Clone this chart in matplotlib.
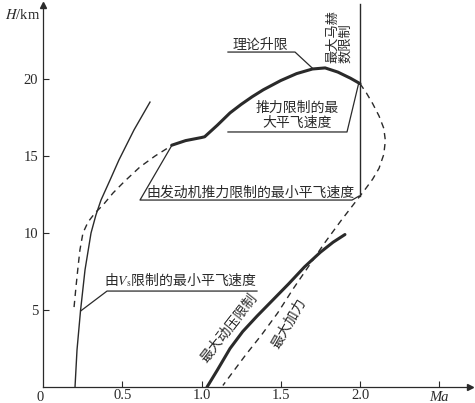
import matplotlib
matplotlib.use('Agg')
import matplotlib.pyplot as plt

plt.rcParams['mathtext.fontset'] = 'stix'
CJK = ['Noto Sans CJK SC', 'DejaVu Sans']
SERIF = 'Liberation Serif'
INK = '#2a2a2a'

# ---- data (Ma, H/km) ----
vs_ma = [0.202, 0.2145, 0.2366, 0.265, 0.303, 0.334, 0.366, 0.423, 0.479, 0.574, 0.675]
vs_h = [0.0, 2.40, 4.94, 7.60, 10.0, 11.17, 12.14, 13.44, 14.74, 16.69, 18.5]

tmin_ma = [0.196, 0.208, 0.221, 0.233, 0.252, 0.284, 0.328, 0.379, 0.442,
           0.517, 0.612, 0.707, 0.812]
tmin_h = [5.19, 6.49, 7.79, 8.9, 10.0, 10.71, 11.3, 11.82, 12.6,
          13.38, 14.29, 15.0, 15.68]

top_ma = [0.812, 0.900, 1.000, 1.020, 1.100, 1.180, 1.250, 1.320, 1.390,
          1.500, 1.600, 1.700, 1.780, 1.860, 1.940, 2.000]
top_h = [15.7, 16.0, 16.2, 16.25, 17.0, 17.8, 18.35, 18.85, 19.3,
         19.9, 20.35, 20.65, 20.72, 20.45, 20.05, 19.7]

tmax_ma = [2.000, 2.040, 2.080, 2.120, 2.150, 2.160, 2.150, 2.120, 2.080, 2.030,
           1.970, 1.880, 1.780, 1.680, 1.580, 1.480, 1.380, 1.280, 1.200, 1.135]
tmax_h = [19.7, 19.1, 18.4, 17.6, 16.8, 16.0, 15.1, 14.2, 13.5, 12.8,
          12.0, 10.8, 9.4, 7.9, 6.4, 4.8, 3.4, 2.1, 1.0, 0.1]

q_ma = [1.035, 1.100, 1.180, 1.260, 1.350, 1.450, 1.550, 1.650, 1.750, 1.830, 1.905]
q_h = [0.0, 1.1, 2.5, 3.6, 4.6, 5.65, 6.7, 7.8, 8.75, 9.4, 9.9]

ma_limit = 2.0
ma_limit_h = [12.4, 24.9]

x_ticks = [0.5, 1.0, 1.5, 2.0, 2.5]
x_labels = ['0.5', '1.0', '1.5', '2.0', '']
y_ticks = [5, 10, 15, 20]
y_labels = ['5', '10', '15', '20']

# ---- figure ----
fig = plt.figure(figsize=(4.75, 4.03), dpi=100)
ax = fig.add_axes([43 / 475, 16 / 403, 427 / 475, 382 / 403])
XMAX = 427 / 158.5
YMAX = 382 / 15.4
ax.set_xlim(0, XMAX)
ax.set_ylim(0, YMAX)

for s in ['top', 'right']:
    ax.spines[s].set_visible(False)
for s in ['left', 'bottom']:
    ax.spines[s].set_color(INK)
    ax.spines[s].set_linewidth(0.9)

ax.set_xticks(x_ticks)
ax.set_xticklabels(x_labels, fontfamily=SERIF, fontsize=10.5, color=INK)
ax.set_yticks(y_ticks)
ax.set_yticklabels(y_labels, fontfamily=SERIF, fontsize=10.5, color=INK)
ax.tick_params(direction='in', length=4, width=0.8, colors=INK)
ax.tick_params(axis='x', pad=1.5)
ax.tick_params(axis='y', pad=3.5)

ax.plot(1, 0, '>', transform=ax.transAxes, clip_on=False, ms=5, color=INK)
ax.plot(0, 1, '^', transform=ax.transAxes, clip_on=False, ms=5, color=INK)

ax.text(-0.02, -0.65, '0', fontfamily=SERIF, fontsize=10.5, ha='center', va='center', color=INK)
ax.text(2.5, -0.65, 'Ma', fontfamily=SERIF, fontstyle='italic', fontsize=10.5,
        ha='center', va='center', color=INK)
ax.text(-0.02, 24.15, r'$H$/km', fontfamily=SERIF, fontsize=10.5,
        ha='right', va='center', color=INK)

# ---- curves ----
thin = dict(color=INK, lw=1.0)
dash = dict(color=INK, lw=1.0, dashes=(4.5, 3.5))
ax.plot(vs_ma, vs_h, **thin)
ax.plot(tmin_ma, tmin_h, **dash)
ax.plot(tmax_ma, tmax_h, **dash)
ax.plot(top_ma, top_h, color=INK, lw=2.2, solid_capstyle='round')
ax.plot(q_ma, q_h, color=INK, lw=2.2, solid_capstyle='round')
ax.plot([ma_limit, ma_limit], ma_limit_h, clip_on=False, **thin)

# ---- labels and leader lines ----
lead = dict(color=INK, lw=0.9)
tkw = dict(fontfamily=CJK, fontsize=10, color=INK)

ax.text(1.369, 22.2, '理论升限', ha='center', va='center', **tkw)
ax.plot([1.167, 1.59, 1.70], [21.75, 21.75, 20.7], **lead)

ax.text(1.868, 22.75, '最大马赫\n数限制', rotation=90, ha='center', va='center',
        multialignment='left', linespacing=0.95, fontfamily=CJK, fontsize=9.5, color=INK)

ax.text(1.603, 17.66, '推力限制的最\n大平飞速度', ha='center', va='center',
        multialignment='center', linespacing=1.05, **tkw)
ax.plot([1.167, 1.918, 1.99], [16.56, 16.56, 19.65], **lead)

ax.text(1.312, 12.62, '由发动机推力限制的最小平飞速度', ha='center', va='center', **tkw)
ax.plot([0.814, 0.612, 1.95, 1.994], [15.71, 12.14, 12.14, 12.4], **lead)

ax.text(0.871, 6.95, r'由$V_{\mathrm{s}}$限制的最小平飞速度', ha='center', va='center', **tkw)
ax.plot([0.238, 0.404, 1.35], [4.94, 6.23, 6.23], **lead)

ax.text(1.173, 3.83, '最大动压限制', rotation=52, ha='center', va='center', **tkw)
ax.text(1.55, 4.16, '最大加力', rotation=60, ha='center', va='center', **tkw)

fig.savefig('out.png', dpi=100, facecolor='white')
